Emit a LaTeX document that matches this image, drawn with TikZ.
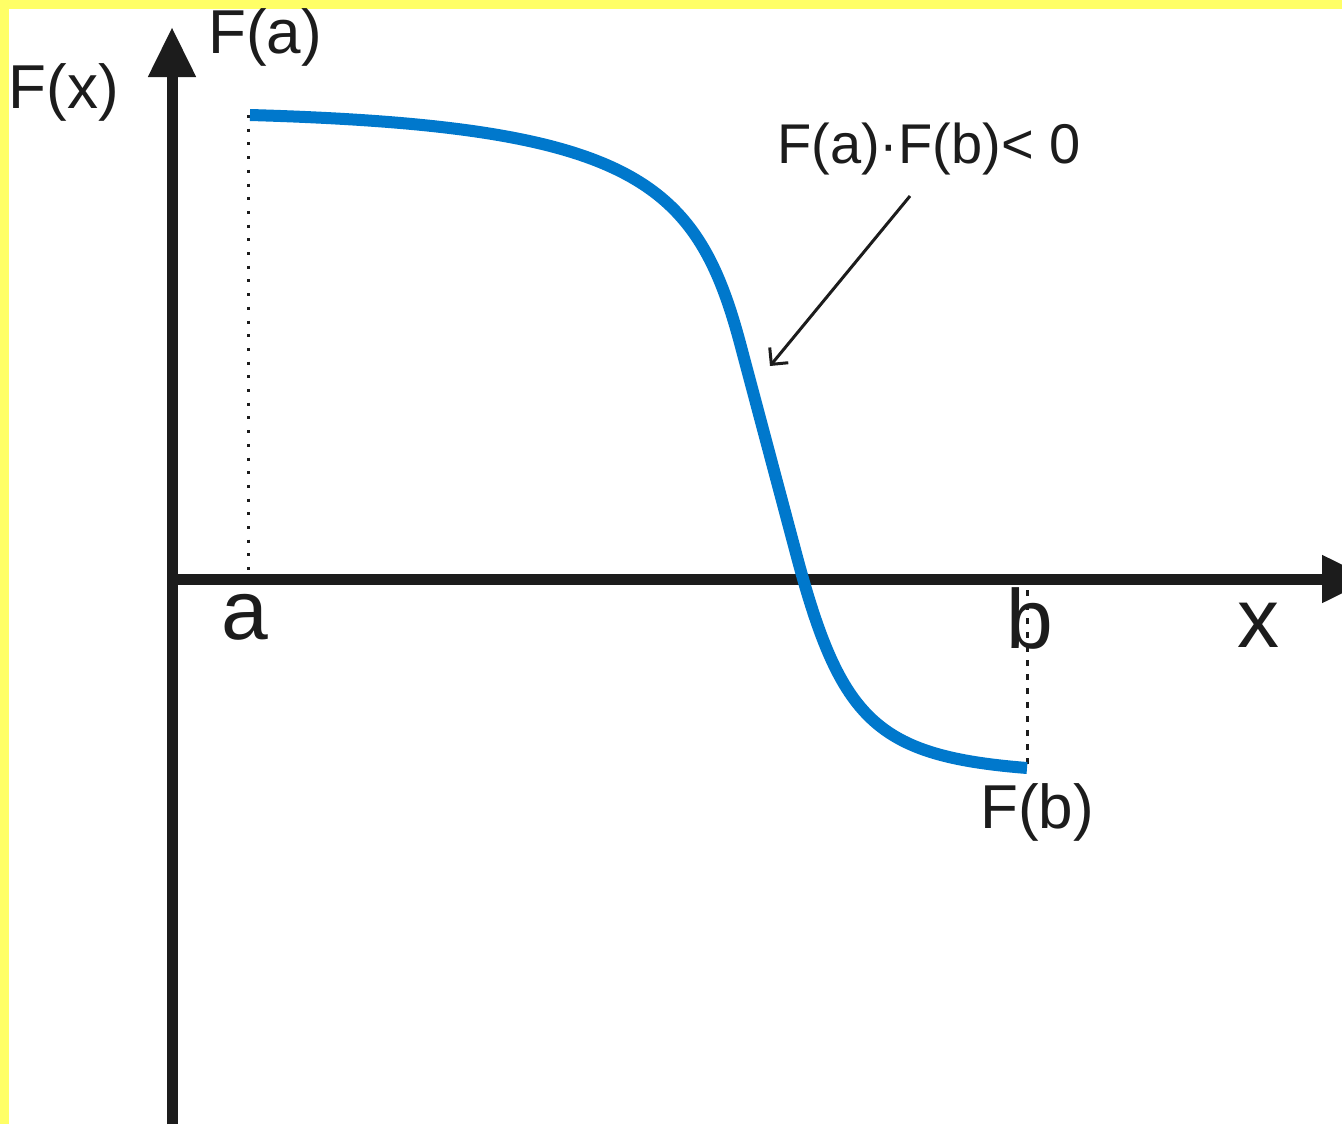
\documentclass[tikz,border=0pt]{standalone}
\usepackage{fontspec}
\setmainfont{Liberation Sans}
\usetikzlibrary{arrows.meta}
\definecolor{axisc}{RGB}{28,28,28}
\definecolor{curvec}{RGB}{0,120,204}
\definecolor{bordc}{RGB}{255,255,102}
\begin{document}
\begin{tikzpicture}[x=0.5pt,y=-0.5pt,
  lbl/.style={inner sep=0pt, anchor=base, text=axisc, font=\fontsize{31}{31}\selectfont},
  biglbl/.style={lbl, font=\fontsize{42}{42}\selectfont},
  note/.style={lbl, font=\fontsize{28}{28}\selectfont},
  axisline/.style={draw=axisc, line width=5.5pt, -{Triangle[length=25pt,width=22.5pt]}},
  guide/.style={draw=axisc, line width=1.5pt},
  fcurve/.style={draw=curvec, line width=6pt},
  ]
\fill[bordc] (0,0) rectangle (1342,1124);
\fill[white] (9,9) rectangle (1342,1124);
\useasboundingbox (0,0) rectangle (1342,1124);
\clip (0,0) rectangle (1342,1124);
% coordinates
\coordinate (ybot) at (172,1124);
\coordinate (ytop) at (172,27);
\coordinate (xleft) at (167,579);
\coordinate (xright) at (1372,579);
\coordinate (pa) at (248,115);
\coordinate (pa0) at (248,578);
\coordinate (pb0) at (1027,590);
\coordinate (pb) at (1027,767);
\coordinate (arrstart) at (910,196);
\coordinate (arrtip) at (770,366);
\coordinate (c0) at (250,115);
\coordinate (c1) at (740,343);
\coordinate (c2) at (797,557);
\coordinate (c3) at (1027,768);
% axes
\draw[axisline] (ybot) -- (ytop);
\draw[axisline] (xleft) -- (xright);
% guides
\draw[guide, dash pattern=on 1.5pt off 5.35pt] (pa) -- (pa0);
\draw[guide, dash pattern=on 3pt off 4pt] (pb0) -- (pb);
% curve
\draw[fcurve] (c0) .. controls (630,126) and (696,179) .. (c1) -- (c2) .. controls (841,721) and (877,756) .. (c3);
% labels
\node[lbl] (Fx) at (64,108) {F(x)};
\node[lbl] (Fa) at (265,53) {F(a)};
\node[lbl] (Fb) at (1037,828) {F(b)};
\node[note] (cond) at (929,163) {F(a)·F(b)< 0};
\node[biglbl] (la) at (245,639) {a};
\node[biglbl] (lb) at (1030,648) {b};
\node[biglbl] (lx) at (1258,647) {x};
% annotation arrow
\draw[guide, -{Straight Barb[length=6pt,width=12pt]}] (arrstart) -- (arrtip);
\end{tikzpicture}
\end{document}
